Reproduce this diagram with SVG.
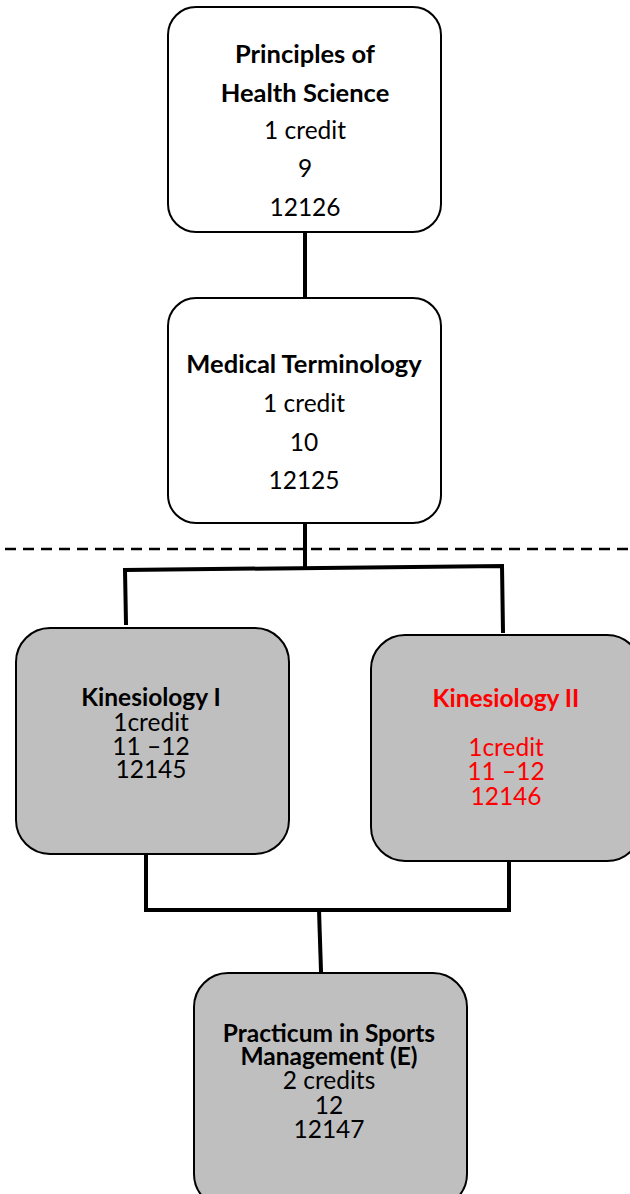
<svg xmlns="http://www.w3.org/2000/svg" width="630" height="1194" viewBox="0 0 630 1194">
<style>
.box{stroke:#000;stroke-width:2}
.w{fill:#fff}
.g{fill:#bfbfbf}
text{font-family:Lato,"Liberation Sans",sans-serif;text-anchor:middle;fill:#000}
.t{font-size:24.5px}
.tb{font-size:25.5px;font-weight:bold}
.s{font-size:24.5px}
.b{font-weight:bold}
.r{fill:#ff0000}
.c{fill:none;stroke:#000;stroke-width:4;stroke-linecap:square;stroke-linejoin:miter}
</style>
<g id="connectors">
<line x1="0" y1="549" x2="630" y2="549" stroke="#000" stroke-width="2.5" stroke-dasharray="11,7" stroke-dashoffset="-5"/>
<path class="c" d="M305 233 L305 297"/>
<path class="c" d="M305 524 L305 568"/>
<path class="c" d="M126 623 L125 570 L502 566 L503 631"/>
<path class="c" d="M146 856 L146 910 L509 910 L509 862"/>
<path class="c" d="M319 910 L321 971"/>
</g>
<g id="n1">
<rect class="box w" x="168" y="7" width="273" height="225" rx="28"/>
<text class="tb" x="305" y="63">Principles of</text>
<text class="tb" x="305" y="102">Health Science</text>
<text class="t" x="305" y="139">1 credit</text>
<text class="t" x="305" y="177">9</text>
<text class="t" x="305" y="216">12126</text>
</g>
<g id="n2">
<rect class="box w" x="168" y="298" width="273" height="225" rx="28"/>
<text class="tb" x="304" y="373">Medical Terminology</text>
<text class="t" x="304" y="412">1 credit</text>
<text class="t" x="304" y="451">10</text>
<text class="t" x="304" y="489">12125</text>
</g>
<g id="n3">
<rect class="box g" x="16" y="628" width="273" height="226" rx="34"/>
<text class="s b" x="151" y="706">Kinesiology I</text>
<text class="s" x="151" y="731">1credit</text>
<text class="s" x="151" y="755">11 –12</text>
<text class="s" x="151" y="778">12145</text>
</g>
<g id="n4">
<rect class="box g" x="371" y="635" width="270" height="226" rx="34"/>
<text class="s b r" x="506" y="707">Kinesiology II</text>
<text class="s r" x="506" y="756">1credit</text>
<text class="s r" x="506" y="780">11 –12</text>
<text class="s r" x="506" y="805">12146</text>
</g>
<g id="n5">
<rect class="box g" x="194" y="973" width="273" height="235" rx="34"/>
<text class="s b" x="329" y="1042">Practicum in Sports</text>
<text class="s b" x="329" y="1065">Management (E)</text>
<text class="s" x="329" y="1089">2 credits</text>
<text class="s" x="329" y="1114">12</text>
<text class="s" x="329" y="1138">12147</text>
</g>
</svg>
